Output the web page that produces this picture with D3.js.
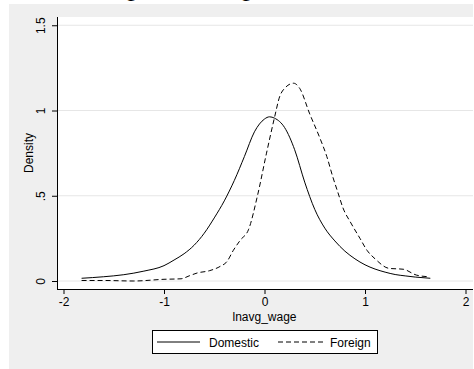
<!DOCTYPE html>
<html>
<head>
<meta charset="utf-8">
<script src="https://cdn.jsdelivr.net/npm/d3@7"></script>
<style>
  body { margin: 0; background: #fff; }
  text { font-family: "Liberation Sans", Arial, sans-serif; fill: #000; }
</style>
</head>
<body>
<script>
// kernel density of lnavg_wage
var domesticX = [-1.82, -1.6, -1.4, -1.2, -1.0, -0.9, -0.8, -0.7, -0.6, -0.5, -0.4, -0.3, -0.2, -0.1, 0, 0.05, 0.1, 0.2, 0.3, 0.4, 0.5, 0.6, 0.7, 0.8, 0.9, 1.0, 1.1, 1.2, 1.3, 1.4, 1.5, 1.65];
var domesticY = [0.016, 0.025, 0.037, 0.058, 0.09, 0.123, 0.16, 0.21, 0.28, 0.37, 0.47, 0.59, 0.73, 0.875, 0.95, 0.963, 0.955, 0.9, 0.77, 0.58, 0.42, 0.31, 0.235, 0.175, 0.13, 0.095, 0.07, 0.052, 0.038, 0.03, 0.023, 0.016];

var foreignX = [-1.82, -1.6, -1.3, -1.0, -0.83, -0.75, -0.67, -0.55, -0.44, -0.375, -0.31, -0.24, -0.16, -0.07, 0.02, 0.1, 0.15, 0.2, 0.29, 0.35, 0.45, 0.55, 0.62, 0.68, 0.73, 0.78, 0.86, 0.95, 1.02, 1.1, 1.24, 1.38, 1.51, 1.63];
var foreignY = [0.003, 0.003, 0.0, 0.01, 0.013, 0.03, 0.047, 0.06, 0.086, 0.113, 0.18, 0.24, 0.3, 0.5, 0.75, 0.96, 1.08, 1.13, 1.16, 1.13, 0.98, 0.84, 0.73, 0.61, 0.52, 0.43, 0.34, 0.25, 0.18, 0.13, 0.074, 0.069, 0.035, 0.025];

var xTicks = [-2, -1, 0, 1, 2];
var yTicks = [0, 0.5, 1, 1.5];
var yTickLabels = ["0", ".5", "1", "1.5"];
var seriesNames = ["Domestic", "Foreign"];

var width = 474, height = 369;

var svg = d3.select("body").append("svg")
    .attr("width", width)
    .attr("height", height);

// outer grey graph region
svg.append("rect")
    .attr("x", 9).attr("y", 4)
    .attr("width", 464).attr("height", 370)
    .attr("fill", "#efefef");

// cut-off text at the very top
svg.append("text")
    .attr("x", 88).attr("y", -4)
    .attr("font-size", 24)
    .attr("letter-spacing", 5)
    .text("Log average");

var plot = { left: 57, right: 473, top: 17, bottom: 289 };

svg.append("rect")
    .attr("x", plot.left).attr("y", plot.top)
    .attr("width", plot.right - plot.left).attr("height", plot.bottom - plot.top)
    .attr("fill", "#fff");

var x = d3.scaleLinear().domain([-2, 2]).range([63.5, 465.5]);
var y = d3.scaleLinear().domain([0, 1]).range([281, 110.5]);

// gridlines
svg.append("g").selectAll("line")
    .data(yTicks)
    .enter().append("line")
    .attr("x1", plot.left).attr("x2", plot.right)
    .attr("y1", function (d) { return y(d); })
    .attr("y2", function (d) { return y(d); })
    .attr("stroke", "#e6e6e6")
    .attr("stroke-width", 1);

// y axis
var yAxis = svg.append("g")
    .attr("transform", "translate(" + plot.left + ",0)")
    .call(d3.axisLeft(y).tickValues(yTicks).tickSize(5).tickPadding(0)
        .tickFormat(function (d, i) { return yTickLabels[i]; }));
yAxis.select(".domain").attr("d", "M0.5," + plot.top + "V" + plot.bottom).attr("stroke", "#000");
yAxis.selectAll(".tick text")
    .attr("font-size", 12)
    .attr("font-family", "Liberation Sans, Arial, sans-serif")
    .attr("text-anchor", "middle")
    .attr("transform", "translate(-16,0) rotate(-90)")
    .attr("x", 0).attr("dy", "0.35em");

// x axis
var xAxis = svg.append("g")
    .attr("transform", "translate(0," + plot.bottom + ")")
    .call(d3.axisBottom(x).tickValues(xTicks).tickSize(5).tickPadding(3)
        .tickFormat(function (d) { return String(d); }));
xAxis.select(".domain").attr("d", "M" + plot.left + ",0.5H" + plot.right).attr("stroke", "#000");
xAxis.selectAll(".tick text")
    .attr("font-size", 12)
    .attr("font-family", "Liberation Sans, Arial, sans-serif");

// axis titles
svg.append("text")
    .attr("transform", "translate(33,153) rotate(-90)")
    .attr("text-anchor", "middle")
    .attr("font-size", 12)
    .text("Density");

svg.append("text")
    .attr("x", 264.5).attr("y", 321)
    .attr("text-anchor", "middle")
    .attr("font-size", 12)
    .text("lnavg_wage");

// density lines
var line = d3.line()
    .x(function (d) { return x(d[0]); })
    .y(function (d) { return y(d[1]); })
    .curve(d3.curveMonotoneX);

var domestic = d3.zip(domesticX, domesticY);
var foreign = d3.zip(foreignX, foreignY);

svg.append("path")
    .datum(domestic)
    .attr("d", line)
    .attr("fill", "none")
    .attr("stroke", "#000")
    .attr("stroke-width", 1);

svg.append("path")
    .datum(foreign)
    .attr("d", line)
    .attr("fill", "none")
    .attr("stroke", "#000")
    .attr("stroke-width", 1)
    .attr("stroke-dasharray", "5,3");

// legend
var legend = svg.append("g");
legend.append("rect")
    .attr("x", 152.5).attr("y", 330.5)
    .attr("width", 225).attr("height", 23)
    .attr("fill", "#fff")
    .attr("stroke", "#000");

legend.append("line")
    .attr("x1", 157).attr("x2", 200)
    .attr("y1", 342).attr("y2", 342)
    .attr("stroke", "#000");
legend.append("text")
    .attr("x", 209).attr("y", 346.5)
    .attr("font-size", 12)
    .text(seriesNames[0]);

legend.append("line")
    .attr("x1", 278).attr("x2", 323)
    .attr("y1", 342).attr("y2", 342)
    .attr("stroke", "#000")
    .attr("stroke-dasharray", "5,3");
legend.append("text")
    .attr("x", 330).attr("y", 346.5)
    .attr("font-size", 12)
    .text(seriesNames[1]);
</script>
</body>
</html>
